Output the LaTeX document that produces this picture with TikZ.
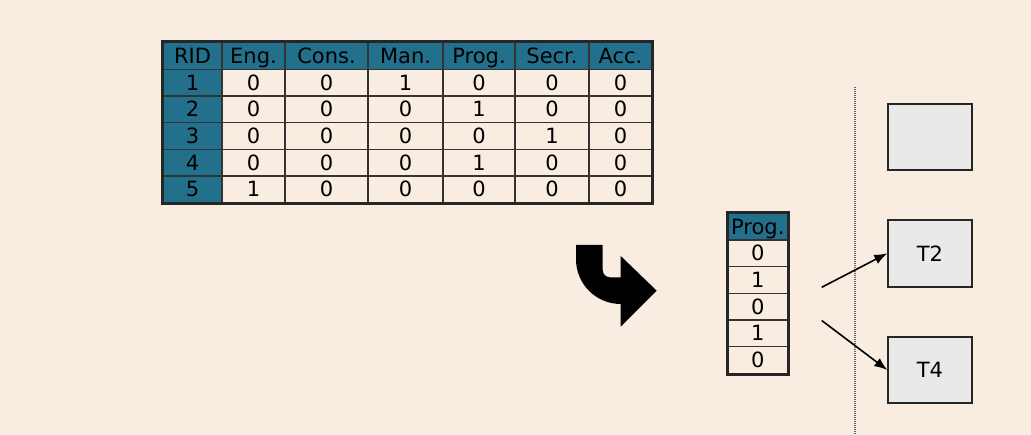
\documentclass[tikz,border=0pt]{standalone}
\usepackage{fontspec}
\setmainfont{DejaVu Sans}
\usepackage{tikz}
\usetikzlibrary{arrows,arrows.meta,shapes,calc}
\definecolor{paper}{RGB}{248,237,224}
\definecolor{hdr}{RGB}{35,112,140}
\definecolor{boxgray}{RGB}{233,233,233}

\begin{document}
\begin{tikzpicture}[x=1pt,y=-1pt,
    cell/.style={draw=black!80,line width=1.6pt,inner sep=0pt,minimum height=26.67pt,text height=19.3pt,text depth=4pt,font=\fontsize{21}{24}\selectfont},
    tbox/.style={draw=black!85,fill=boxgray,line width=2pt,minimum width=83.4pt,minimum height=66.7pt,font=\fontsize{21}{24}\selectfont}]
    \fill[paper] (0,0) rectangle (1031,435);
    \useasboundingbox (0,0) rectangle (1031,435);

    % big table
    \foreach \row [count=\r] in {{RID,Eng.,Cons.,Man.,Prog.,Secr.,Acc.},{1,0,0,1,0,0,0},{2,0,0,0,1,0,0},{3,0,0,0,0,1,0},{4,0,0,0,1,0,0},{5,1,0,0,0,0,0}} {
        \foreach \t [count=\c] in \row {
            \pgfmathsetmacro\cx{{192.5,253.5,326.5,405.5,479,552,620.5}[\c-1]}
            \pgfmathsetmacro\cw{{59,63,83,75,72,74,63}[\c-1]}
            \pgfmathtruncatemacro\hd{or(\r==1,\c==1)}
            \ifnum\hd=1 \def\cf{hdr}\else\def\cf{paper}\fi
            \node[cell,fill=\cf,minimum width=\cw pt] (tab-\r-\c) at (\cx,29.33+26.67*\r) {\t};
        }
    }
    \draw[line width=2.8pt,black!85] (tab-1-1.north west) rectangle (tab-6-7.south east);

    % bent arrow
    \fill[black] (576,245) -- (602.7,245) -- (602.7,270) arc (180:90:7.3) -- (620.7,277.3) -- (620.7,256)
        -- (656.7,290.7) -- (620.7,326.7) -- (620.7,304) arc (90:180:44.7) -- cycle;

    % bitmap column
    \foreach \t [count=\r] in {Prog.,0,1,0,1,0} {
        \ifnum\r=1 \def\cf{hdr}\else\def\cf{paper}\fi
        \node[cell,fill=\cf,minimum width=59pt] (prog-\r) at (757.8,200+26.67*\r) {\t};
    }
    \draw[line width=2.8pt,black!85] (prog-1.north west) rectangle (prog-6.south east);

    \draw[black!60,line width=1.3pt,dash pattern=on 1pt off 1pt] (855,87) -- (855,435);

    \node[tbox] (b1) at (930,137) {};
    \node[tbox] (t2) at (930,253.3) {T2};
    \node[tbox] (t4) at (930,370) {T4};

    \coordinate (s2) at (821.7,287.3);
    \coordinate (s4) at (821.7,320.5);
    \draw[-{Latex[length=13pt,width=10pt]},line width=1.6pt] (s2) -- (t2.west);
    \draw[-{Latex[length=13pt,width=10pt]},line width=1.6pt] (s4) -- (t4.west);
\end{tikzpicture}
\end{document}
